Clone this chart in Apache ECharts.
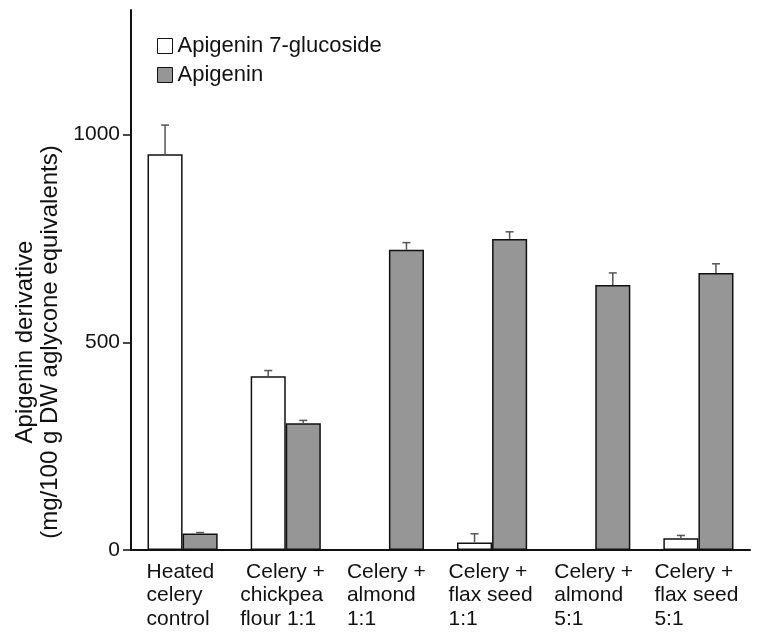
<!DOCTYPE html>
<html>
<head>
<meta charset="utf-8">
<script src="https://cdn.jsdelivr.net/npm/echarts@6/dist/echarts.min.js"></script>
<style>html,body{margin:0;padding:0;background:#fff}#c{width:762px;height:639px}</style>
</head>
<body>
<div id="c"></div>
<script>
var categories = ['Heated\ncelery\ncontrol', ' Celery +\nchickpea\nflour 1:1', 'Celery +\nalmond\n1:1', 'Celery +\nflax seed\n1:1', 'Celery +\nalmond\n5:1', 'Celery +\nflax seed\n5:1'];
var seriesNames = ['Apigenin 7-glucoside', 'Apigenin'];
var glucoside = [953, 418, 0, 18, 0, 28];
var glucosideErr = [70, 14, 0, 21, 0, 7];
var apigenin = [40, 305, 723, 749, 638, 667];
var apigeninErr = [2, 7, 17, 17, 29, 22];
var yTicks = [0, 500, 1000];

var FONT = 'Liberation Sans, Arial, Helvetica, sans-serif';
var GAP = 0.32;
var labelWidths = [72, 91, 84, 87, 82, 88];

function errSeries(vals, errs, side) {
  return {
    type: 'custom',
    z: 5,
    encode: {x: 0, y: 1},
    data: vals.map(function (v, i) { return [i, v, errs[i]]; }),
    renderItem: function (params, api) {
      var i = api.value(0), v = api.value(1), e = api.value(2);
      if (!e) return null;
      var band = api.size([1, 0])[0];
      var bw = band * (1 - GAP) / 2;
      var b = api.coord([i, v]);
      var t = api.coord([i, v + e]);
      var x = b[0] + side * bw / 2;
      var st = {stroke: '#555', lineWidth: 1.5};
      return {type: 'group', children: [
        {type: 'line', shape: {x1: x, y1: b[1], x2: x, y2: t[1]}, style: st},
        {type: 'line', shape: {x1: x - 4, y1: t[1], x2: x + 4, y2: t[1]}, style: st}
      ]};
    }
  };
}

var rich = {};
labelWidths.forEach(function (w, i) {
  rich['s' + i] = {width: w, align: 'left', fontSize: 21, lineHeight: 23.5, fontFamily: FONT, color: '#111'};
});

var chart = echarts.init(document.getElementById('c'));
chart.setOption({
  animation: false,
  backgroundColor: '#fff',
  grid: {left: 131, right: 12, top: 10, bottom: 89, containLabel: false},
  legend: {
    orient: 'vertical', left: 157, top: 35, padding: 0,
    itemWidth: 15, itemHeight: 15, itemGap: 7,
    icon: 'rect',
    data: seriesNames,
    textStyle: {fontSize: 22, fontFamily: FONT, color: '#111'},
    itemStyle: {borderWidth: 1, borderColor: '#111'}
  },
  xAxis: {
    type: 'category',
    data: categories,
    axisLine: {lineStyle: {color: '#111', width: 2}},
    axisTick: {length: 5, lineStyle: {color: '#111', width: 2}},
    axisLabel: {
      margin: 10,
      interval: 0,
      formatter: function (val, idx) {
        return val.split('\n').map(function (l) { return '{s' + idx + '|' + l + '}'; }).join('\n');
      },
      rich: rich
    }
  },
  yAxis: {
    type: 'value',
    min: 0, max: 1300, interval: 500,
    name: 'Apigenin derivative\n(mg/100 g DW aglycone equivalents)',
    nameLocation: 'middle',
    nameRotate: 90,
    nameGap: 68,
    nameTextStyle: {fontSize: 24, lineHeight: 24.5, fontFamily: FONT, color: '#111', padding: [0, 124, 0, 0]},
    axisLine: {show: true, lineStyle: {color: '#111', width: 2}},
    axisTick: {show: true, length: 8, customValues: yTicks, lineStyle: {color: '#111', width: 1.5}},
    axisLabel: {margin: 11, customValues: yTicks, fontSize: 21, fontFamily: FONT, color: '#111',
      formatter: function (v) { return String(v); }},
    splitLine: {show: false}
  },
  series: [
    {name: seriesNames[0], type: 'bar', data: glucoside, barGap: '0%', barCategoryGap: '32%',
     itemStyle: {color: '#fff', borderColor: '#111', borderWidth: 1.5}},
    {name: seriesNames[1], type: 'bar', data: apigenin, barGap: '0%', barCategoryGap: '32%',
     itemStyle: {color: '#969696', borderColor: '#111', borderWidth: 1.5}},
    errSeries(glucoside, glucosideErr, -1),
    errSeries(apigenin, apigeninErr, 1)
  ]
});
</script>
</body>
</html>
